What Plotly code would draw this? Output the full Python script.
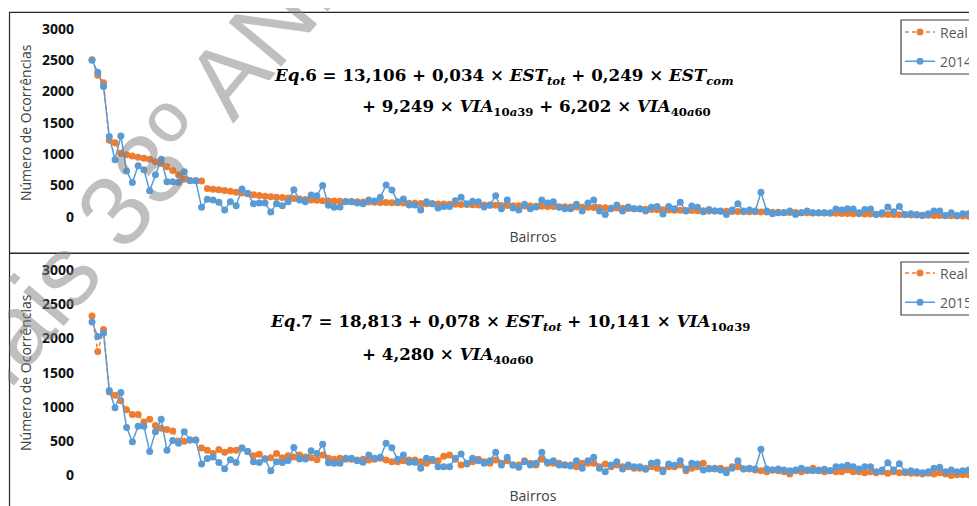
import plotly.graph_objects as go
from plotly.subplots import make_subplots

# ---------------- data ----------------
bairros = list(range(1, 154))  # neighbourhood rank positions (153 bairros)

real_2014 = [
    2510, 2260, 2140, 1220, 1180, 1010, 990, 970, 950, 935, 920, 880, 850, 800, 740, 670, 600, 580, 575, 570,
    450, 440, 432, 420, 405, 392, 380, 365, 350, 338, 325, 318, 310, 305, 298, 290, 282, 276, 268, 262, 256,
    252, 250, 247, 244, 242, 240, 236, 233, 231, 228, 226, 224, 221, 218, 216, 213, 211, 208, 206, 204,
    201, 199, 197, 195, 193, 190, 188, 186, 184, 182, 180, 178, 176, 175, 173, 171, 169, 167, 165, 163,
    161, 159, 157, 155, 153, 151, 148, 146, 144, 141, 138, 135, 132, 128, 124, 120,
    116, 113, 110, 107, 105, 102, 100, 98, 96, 94, 92, 90, 88, 86, 85, 83, 81, 79, 78, 76,
    74, 73, 71, 69, 68, 66, 64, 63, 61, 59, 58, 56, 54, 53, 51, 49, 47, 45, 43, 41,
    39, 37, 35, 33, 31, 29, 27, 25, 23, 21, 19, 17, 15, 13, 11, 9,
]

est_2014 = [
    2500, 2310, 2080, 1280, 910, 1290, 730, 545, 815, 750, 415, 670, 920, 560, 560, 545, 720, 575, 575, 150,
    278, 267, 230, 107, 240, 176, 443, 374, 208, 219, 219, 75, 208, 176, 240, 432, 267, 240, 347, 336,
    500, 185,
    150, 155, 240, 240, 219, 208, 267, 250, 310, 507, 427, 240, 283, 186, 186, 107, 240, 208, 139, 165,
    165, 256, 310, 208, 245, 240, 155, 186, 336, 128, 267, 139, 107, 197, 128, 155, 267, 219, 240, 150,
    128, 128, 197, 90, 219, 267, 90, 37, 128, 186, 90, 155, 128, 128, 90,
    150, 165, 43, 165, 128, 230, 90, 170, 150, 80, 117, 90, 90, 37, 107, 208, 90, 107, 90, 390,
    90, 48, 64, 64, 90, 37, 64, 90, 64, 64, 64, 64, 122, 107, 128, 122, 64, 117, 122, 37,
    64, 155, 80, 165, 37, 48, 37, 21, 48, 90, 90, 21, 64, 21, 48, 48,
]

real_2015 = [
    2330, 1810, 2130, 1220, 1170, 1090, 960, 890, 890, 780, 820, 730, 690, 670, 650, 500, 500, 520, 520, 400,
    370, 320, 380, 340, 370, 370, 400, 350, 290, 310, 244, 260, 320, 260, 290, 270, 300, 270, 260, 230,
    300, 251,
    236, 251, 236, 236, 226, 236, 226, 236, 251, 226, 202, 202, 216, 226, 226, 202, 178, 216, 216, 280,
    299, 236, 153, 168, 202, 236, 202, 178, 226, 178, 216, 153, 153, 216, 178, 153, 236, 178, 178, 178,
    153, 153, 129, 178, 178, 178, 129, 168, 129, 153, 129, 129, 105, 105, 105,
    129, 105, 80, 129, 129, 153, 71, 105, 129, 178, 105, 95, 105, 80, 129, 129, 95, 95, 80, 71,
    56, 80, 71, 56, 22, 71, 56, 71, 105, 80, 56, 71, 56, 56, 80, 56, 56, 41, 56, 41,
    56, 32, 56, 41, 41, 32, 32, 22, 32, 22, 41, 22, 0, 10, 10, 10,
]

est_2015 = [
    2240, 2030, 2080, 1240, 990, 1210, 700, 494, 720, 720, 350, 640, 820, 370, 510, 470, 640, 520, 520, 168,
    250, 270, 190, 100, 230, 190, 400, 350, 200, 190, 240, 70, 200, 190, 220, 410, 240, 240, 360, 320,
    455, 185,
    178, 178, 251, 251, 216, 192, 299, 251, 265, 470, 406, 236, 299, 192, 192, 105, 251, 236, 129, 129,
    129, 251, 314, 178, 251, 216, 178, 216, 338, 153, 265, 153, 119, 202, 153, 178, 338, 192, 216, 153,
    153, 138, 216, 105, 216, 265, 105, 56, 153, 202, 95, 153, 129, 129, 90,
    178, 192, 56, 168, 148, 216, 95, 178, 168, 80, 95, 105, 80, 41, 105, 216, 95, 105, 95, 382,
    95, 80, 95, 80, 71, 80, 105, 80, 71, 71, 90, 71, 129, 129, 148, 129, 95, 129, 129, 56,
    80, 187, 80, 173, 56, 71, 56, 41, 56, 105, 119, 56, 80, 56, 71, 80,
]

y_ticks = [0, 500, 1000, 1500, 2000, 2500, 3000]

eq6_line1 = "<i>Eq</i>.6 = 13,106 + 0,034 × <i>EST</i><sub><i>tot</i></sub> + 0,249 × <i>EST</i><sub><i>com</i></sub>"
eq6_line2 = "+ 9,249 × <i>VIA</i><sub>10<i>a</i>39</sub> + 6,202 × <i>VIA</i><sub>40<i>a</i>60</sub>"
eq7_line1 = "<i>Eq</i>.7 = 18,813 + 0,078 × <i>EST</i><sub><i>tot</i></sub> + 10,141 × <i>VIA</i><sub>10<i>a</i>39</sub>"
eq7_line2 = "+ 4,280 × <i>VIA</i><sub>40<i>a</i>60</sub>"

watermark = "Anais 33º ANPET"

# ---------------- geometry (page pixels -> paper) ----------------
PAGE_OFF = 8            # default body margin of the page
W, H = 977 - PAGE_OFF, 506 - PAGE_OFF
PLOT_LEFT = 89          # page x of the plot area's left edge
ML = PLOT_LEFT - PAGE_OFF
PW = W - ML


def px_x(p):
    return (p - PLOT_LEFT) / PW


def px_y(p):
    return 1 - (p - PAGE_OFF) / H


ORANGE = "#ED7D31"
BLUE = "#5B9BD5"
LABEL_FONT = "Open Sans"

fig = make_subplots(rows=2, cols=1)

fig.add_trace(go.Scatter(
    x=bairros, y=real_2014, name="Real", mode="lines+markers",
    line=dict(color=ORANGE, width=1.5, dash="4px,3px"),
    marker=dict(color=ORANGE, size=7), legend="legend", legendgroup="a",
    cliponaxis=False), row=1, col=1)
fig.add_trace(go.Scatter(
    x=bairros, y=est_2014, name="2014", mode="lines+markers",
    line=dict(color=BLUE, width=1.5),
    marker=dict(color=BLUE, size=7), legend="legend", legendgroup="b",
    cliponaxis=False), row=1, col=1)
fig.add_trace(go.Scatter(
    x=bairros, y=real_2015, name="Real", mode="lines+markers",
    line=dict(color=ORANGE, width=1.5, dash="4px,3px"),
    marker=dict(color=ORANGE, size=7), legend="legend2", legendgroup="c",
    cliponaxis=False), row=2, col=1)
fig.add_trace(go.Scatter(
    x=bairros, y=est_2015, name="2015", mode="lines+markers",
    line=dict(color=BLUE, width=1.5),
    marker=dict(color=BLUE, size=7), legend="legend2", legendgroup="d",
    cliponaxis=False), row=2, col=1)

x_range = [0.48, 154.46]
xaxis_common = dict(range=x_range, showticklabels=False, showgrid=False, zeroline=False,
                    showline=False, ticks="",
                    title=dict(text="Bairros", standoff=15,
                               font=dict(family=LABEL_FONT, size=14, color="#404040")))
yaxis_common = dict(range=[0, 3000], tickvals=y_ticks, showgrid=False, zeroline=False,
                    showline=False, ticks="", ticklabelstandoff=14,
                    tickfont=dict(family=LABEL_FONT, size=14, color="#111111", weight="bold"),
                    title=dict(text="Número de Ocorrências", standoff=7,
                               font=dict(family=LABEL_FONT, size=14, color="#404040")))

fig.update_xaxes(**xaxis_common)
fig.update_yaxes(**yaxis_common)
fig.update_layout(
    xaxis=dict(domain=[0, 1]),
    xaxis2=dict(domain=[0, 1]),
    yaxis=dict(domain=[px_y(216.7), px_y(29)]),
    yaxis2=dict(domain=[px_y(475.5), px_y(270)]),
)

legend_common = dict(xref="paper", yref="paper", xanchor="left", yanchor="top",
                     borderwidth=0, bgcolor="rgba(0,0,0,0)",
                     tracegroupgap=8,
                     font=dict(family=LABEL_FONT, size=14, color="#595959"))
fig.update_layout(
    legend=dict(x=px_x(900), y=px_y(16.5), **legend_common),
    legend2=dict(x=px_x(900), y=px_y(257.5), **legend_common),
)

# legend frames
for top, bottom in [(20, 74), (262, 315)]:
    fig.add_shape(type="rect", xref="paper", yref="paper",
                  x0=px_x(901), x1=px_x(1000), y0=px_y(bottom), y1=px_y(top),
                  line=dict(color="#404040", width=1.2), layer="below")

# panel borders
for top, bottom in [(12.3, 253), (253.5, 515)]:
    fig.add_shape(type="rect", xref="paper", yref="paper",
                  x0=px_x(9.5), x1=px_x(1000), y0=px_y(bottom), y1=px_y(top),
                  line=dict(color="#262626", width=1.2), layer="below")

eq_font = dict(family="DejaVu Serif", size=16.7, color="black", weight="bold")
for text, xp, yp in [(eq6_line1, 272, 77), (eq6_line2, 360, 107),
                     (eq7_line1, 268, 322), (eq7_line2, 360, 355)]:
    fig.add_annotation(text=text, xref="paper", yref="paper", x=px_x(xp), y=px_y(yp),
                       xanchor="left", yanchor="middle", showarrow=False, font=eq_font)

fig.add_annotation(text=watermark, xref="paper", yref="paper", x=px_x(169), y=px_y(146),
                   xanchor="center", yanchor="middle", showarrow=False, textangle=-50,
                   font=dict(family="Liberation Sans", size=100, color="rgba(128,128,128,0.5)"))

fig.update_layout(
    width=W, height=H,
    margin=dict(l=ML, r=0, t=0, b=0, autoexpand=False),
    paper_bgcolor="white", plot_bgcolor="white",
    showlegend=True,
)

fig.write_html("out.html")
